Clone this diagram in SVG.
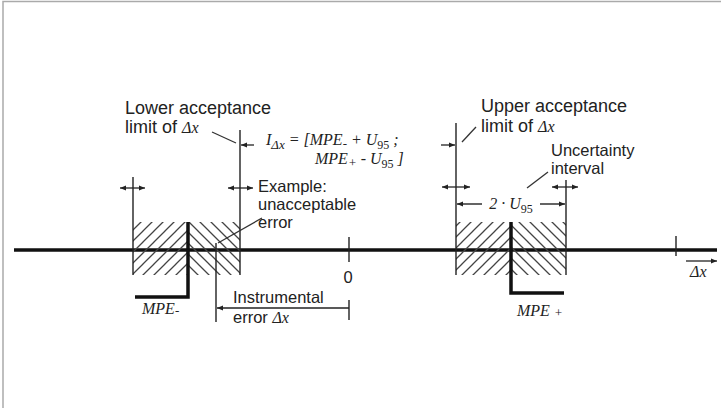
<svg xmlns="http://www.w3.org/2000/svg" width="721" height="408" viewBox="0 0 721 408">
<style>
.t{font-family:"Liberation Sans",Arial,sans-serif;font-size:16.5px;fill:#222}
.big{font-size:18px}
.m{font-family:"Liberation Serif","Times New Roman",serif;font-style:italic;font-size:16px;fill:#222}
.ln{stroke:#222;stroke-width:1.4;fill:none}
.thick{stroke:#111;stroke-width:3.5;fill:none}
.ax{stroke:#111;stroke-width:3.5;fill:none}
.ld{stroke:#333;stroke-width:1.3;fill:none}
.arr{stroke:#222;stroke-width:1.3;fill:none;marker-end:url(#ah)}
.arr2{stroke:#222;stroke-width:1.3;fill:none;marker-start:url(#ahs);marker-end:url(#ah)}
</style>
<defs>
<marker id="ah" markerWidth="7" markerHeight="6" refX="6" refY="3" orient="auto" markerUnits="userSpaceOnUse"><path d="M0,0.5 L6,3 L0,5.5 z" fill="#222"/></marker>
<marker id="ahs" markerWidth="7" markerHeight="6" refX="1" refY="3" orient="auto" markerUnits="userSpaceOnUse"><path d="M7,0.5 L1,3 L7,5.5 z" fill="#222"/></marker>
<pattern id="fw" patternUnits="userSpaceOnUse" width="11" height="11"><path d="M-1,12 L12,-1 M-6,6 L6,-6 M5,17 L17,5" stroke="#444" stroke-width="1.3"/></pattern>
<pattern id="bw" patternUnits="userSpaceOnUse" width="11" height="11"><path d="M-1,-1 L12,12 M-6,5 L6,17 M5,-6 L17,6" stroke="#444" stroke-width="1.3"/></pattern>
</defs>
<rect width="721" height="408" fill="#fff"/>
<path d="M3,408 V1.5 H721" stroke="#aaa" stroke-width="1.5" fill="none"/>

<g id="axis">
<line class="ax" x1="14" y1="250" x2="717" y2="250"/>
<line class="ln" x1="676" y1="236" x2="676" y2="256" stroke-width="2"/>
<line class="ln" x1="349" y1="237" x2="349" y2="262" stroke-width="2"/>
<text class="t" x="348" y="283" text-anchor="middle" font-size="15">0</text>
<line class="arr" x1="686" y1="261" x2="717" y2="261"/>
<text class="m" x="690" y="277" font-size="14">Δx</text>
</g>

<g id="lower-box">
<rect x="133" y="222" width="55" height="53" fill="url(#fw)"/>
<rect x="188" y="222" width="52" height="53" fill="url(#bw)"/>
<line class="ln" x1="133" y1="177" x2="133" y2="275"/>
<line class="ln" x1="240" y1="130" x2="240" y2="275"/>
<path class="thick" d="M188,222 V297 H135"/>
<text class="m" x="142" y="314" font-size="17">MPE<tspan font-size="13" dy="1">-</tspan></text>
</g>

<g id="upper-box">
<rect x="456" y="222" width="55" height="53" fill="url(#fw)"/>
<rect x="511" y="222" width="55" height="53" fill="url(#bw)"/>
<line class="ln" x1="456" y1="123" x2="456" y2="275"/>
<line class="ln" x1="566" y1="180" x2="566" y2="275"/>
<path class="thick" d="M511,222 V293 H564"/>
<text class="m" x="517" y="316" font-size="17">MPE <tspan font-size="13" dy="1">+</tspan></text>
</g>

<g id="lower-label">
<text class="t big" x="125" y="114">Lower acceptance</text>
<text class="t big" x="125" y="133">limit of <tspan class="m" font-size="16">Δx</tspan></text>
</g>

<g id="upper-label">
<text class="t big" x="481" y="112">Upper acceptance</text>
<text class="t big" x="481" y="132">limit of <tspan class="m" font-size="16">Δx</tspan></text>
</g>

<g id="uncertainty-label">
<text class="t" x="551" y="156">Uncertainty</text>
<text class="t" x="551" y="174">interval</text>
</g>

<g id="formula">
<text class="m" x="266" y="145" font-size="17">I<tspan font-size="13" dy="4">Δx</tspan><tspan dy="-4"> = [MPE</tspan><tspan font-size="13" dy="3">-</tspan><tspan dy="-3"> + U</tspan><tspan font-size="12" dy="4" font-style="normal">95</tspan><tspan dy="-4"> ;</tspan></text>
<text class="m" x="315" y="164" font-size="17">MPE<tspan font-size="13" dy="3">+</tspan><tspan dy="-3"> - U</tspan><tspan font-size="12" dy="4" font-style="normal">95</tspan><tspan dy="-4"> ]</tspan></text>
</g>

<g id="example">
<text class="t" x="258" y="192">Example:</text>
<text class="t" x="258" y="210">unacceptable</text>
<text class="t" x="258" y="228">error</text>
<line class="ln" x1="216" y1="243" x2="216" y2="322"/>
</g>

<g id="instrumental-error">
<text class="t" x="233" y="303">Instrumental</text>
<text class="t" x="233" y="323">error <tspan class="m" font-size="15">Δx</tspan></text>
<line class="ln" x1="349" y1="300" x2="349" y2="320"/>
</g>

<g id="two-u95">
<text class="m" x="511" y="209" text-anchor="middle" font-size="17">2 · U<tspan font-size="12" dy="4" font-style="normal">95</tspan></text>
</g>

<g id="connectors">
<line class="ld" x1="212" y1="132" x2="236" y2="143"/>
<line class="ld" x1="476" y1="127" x2="462" y2="142"/>
<line class="ld" x1="548" y1="172" x2="527" y2="188"/>
<line class="ld" x1="218" y1="243" x2="262" y2="218"/>
<line class="arr" x1="254" y1="145" x2="241" y2="145"/>
<line class="arr" x1="441" y1="145" x2="455" y2="145"/>
<line class="arr2" x1="120" y1="188" x2="145" y2="188"/>
<line class="arr2" x1="228" y1="188" x2="253" y2="188"/>
<line class="arr2" x1="442" y1="187" x2="470" y2="187"/>
<line class="arr2" x1="552" y1="187" x2="578" y2="187"/>
<line class="ln" x1="457" y1="204" x2="482" y2="204" marker-start="url(#ahs)"/>
<line class="ln" x1="540" y1="204" x2="565" y2="204" marker-end="url(#ah)"/>
<line class="arr" x1="349" y1="308" x2="217" y2="308"/>
</g>
</svg>
